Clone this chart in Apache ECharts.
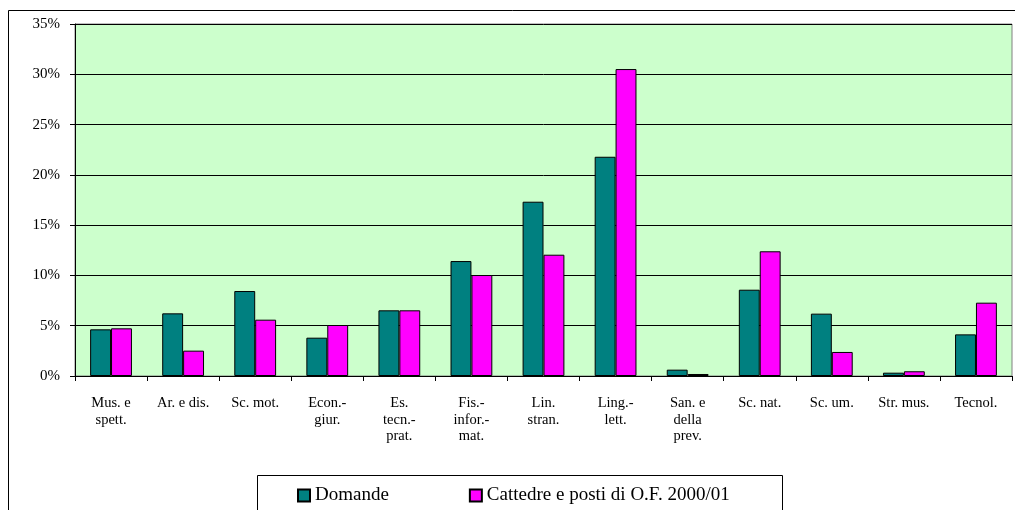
<!DOCTYPE html>
<html><head><meta charset="utf-8">
<script src="https://cdn.jsdelivr.net/npm/echarts@6/dist/echarts.min.js"></script>
<style>html,body{margin:0;padding:0;background:#fff}#c{width:1015px;height:510px}</style>
</head><body><div id="c"></div>
<script>
const categories = ["Mus. e\nspett.","Ar. e dis.","Sc. mot.","Econ.-\ngiur.","Es.\ntecn.-\nprat.","Fis.-\ninfor.-\nmat.","Lin.\nstran.","Ling.-\nlett.","San. e\ndella\nprev.","Sc. nat.","Sc. um.","Str. mus.","Tecnol."];
const domande = [4.64,6.23,8.45,3.81,6.53,11.43,17.33,21.8,0.63,8.58,6.2,0.33,4.14];
const cattedre = [4.74,2.52,5.6,5.07,6.53,10.04,12.06,30.52,0.2,12.4,2.39,0.47,7.29];
const seriesNames = ["Domande","Cattedre e posti di O.F. 2000/01"];

const chart = echarts.init(document.getElementById('c'));
const font = "'Liberation Serif','Times New Roman',serif";
chart.setOption({
  animation:false,
  textStyle:{fontFamily:font},
  graphic:[
    {type:'rect',shape:{x:8.5,y:10.5,width:1020,height:520},style:{fill:'none',stroke:'#000',lineWidth:1},z:-10},
    {type:'rect',shape:{x:257.5,y:475.5,width:525,height:50},style:{fill:'#fff',stroke:'#000',lineWidth:1},z:-5}
  ],
  grid:{left:75,right:3,top:24,bottom:134,show:true,backgroundColor:'#CCFFCC',borderColor:'#808080',borderWidth:1},
  legend:{data:seriesNames,left:292,top:481,itemWidth:12,itemHeight:12,itemGap:80,icon:'rect',
    textStyle:{fontFamily:font,fontSize:19,color:'#000'}},
  xAxis:{type:'category',data:categories,
    axisLine:{lineStyle:{color:'#000'}},
    axisTick:{show:true,length:5,lineStyle:{color:'#000'}},
    axisLabel:{fontFamily:font,fontSize:14.5,color:'#000',lineHeight:16.5,margin:19,interval:0}},
  yAxis:{type:'value',min:0,max:35,interval:5,
    axisLine:{show:true,lineStyle:{color:'#000'}},
    axisTick:{show:true,length:5,lineStyle:{color:'#000'}},
    axisLabel:{formatter:'{value}%',fontFamily:font,fontSize:15,color:'#000',margin:15},
    splitLine:{lineStyle:{color:'#000',width:1}}},
  series:[
    {name:seriesNames[0],type:'bar',data:domande,barGap:'0%',barCategoryGap:'42%',
     itemStyle:{color:'#008080',borderColor:'#000',borderWidth:1}},
    {name:seriesNames[1],type:'bar',data:cattedre,
     itemStyle:{color:'#FF00FF',borderColor:'#000',borderWidth:1}}
  ]
});
</script></body></html>
